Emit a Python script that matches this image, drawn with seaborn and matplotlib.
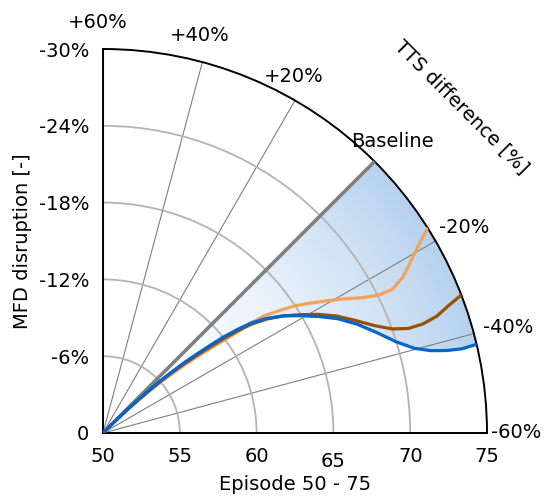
import numpy as np
import matplotlib
matplotlib.use("Agg")
import matplotlib.pyplot as plt
import matplotlib.transforms as mtransforms
import seaborn as sns
import pandas as pd
from matplotlib.colors import LinearSegmentedColormap
from matplotlib.path import Path

plt.rcParams['font.family'] = ['DejaVu Sans']

# ---------------- data ----------------
episodes = list(range(50, 76))
# TTS difference [%] relative to baseline, per episode
tts_blue = [0, -0.5, -1.2, -2.0, -2.8, -3.6, -4.5, -5.5, -6.6, -7.6, -8.6, -9.8, -11.2,
            -13.3, -16.0, -19.2, -22.3, -25.4, -29.1, -33.2, -37.0, -39.7, -41.2, -42.0,
            -42.4, -42.2]
tts_orange = [0, -0.8, -1.8, -2.8, -3.8, -4.8, -5.9, -7.0, -8.1, -9.2, -10.1, -10.8, -11.1,
              -12.0, -13.7, -15.3, -17.4, -19.4, -21.3, -23.2, -24.5, -24.8, -23.4, -21.0,
              -18.8, -17.0]
tts_brown = [0, -0.5, -1.3, -2.2, -3.1, -4.0, -5.0, -6.1, -7.2, -8.3, -9.3, -10.4, -11.7,
             -13.6, -16.0, -18.8, -21.5, -24.5, -28.0, -31.2, -33.6, -34.8, -34.9, -34.3,
             -33.0, -31.9]

tts_ticks = [-60, -40, -20, 0, 20, 40, 60]
tts_labels = ['-60%', '-40%', '-20%', 'Baseline', '+20%', '+40%', '+60%']
ep_ticks = [50, 55, 60, 65, 70, 75]
ep_labels = ['50', '55', '60', '65', '70', '75']
mfd_labels = ['0', '-6%', '-12%', '-18%', '-24%', '-30%']

# label offsets (pixels, right / up) from the outer arc, layout only
tts_label_offsets = [(29, 0), (34, 6), (29, 14), (18, 20), (-1, 24), (-3, 27), (-5, 27)]

colors = {'orange': '#f2a35a', 'brown': '#995000', 'blue': '#0066cc'}
FS = 14


def tts_to_theta(v):
    # +-60% mapped onto the quarter circle, baseline at 45 degrees
    return np.deg2rad(45 + 0.75 * np.asarray(v, dtype=float))


df = pd.DataFrame({
    'episode': episodes * 3,
    'tts': tts_orange + tts_brown + tts_blue,
    'run': ['orange'] * len(episodes) + ['brown'] * len(episodes) + ['blue'] * len(episodes),
})
df['theta'] = tts_to_theta(df['tts'])

# ---------------- figure ----------------
W, H = 550, 497
fig = plt.figure(figsize=(W / 100, H / 100), dpi=100)
cx, cy, R = 103, 433, 384
rect = [cx / W, (H - cy) / H, R / W, R / H]

ax = fig.add_axes(rect, projection='polar')
ax.set_thetamin(0)
ax.set_thetamax(90)
ax.set_rlim(50, 75)
ax.set_rticks([55, 60, 65, 70])
ax.set_yticklabels([])
ax.set_xticks(tts_to_theta(tts_ticks))
ax.set_xticklabels([])
ax.yaxis.grid(True, color='#b3b3b3', lw=1.3)
ax.xaxis.grid(True, color='#7f7f7f', lw=0.8)
for s in ax.spines.values():
    s.set_color('black')
    s.set_linewidth(1.4)

for t, lab, (dx, dy) in zip(tts_ticks, tts_labels, tts_label_offsets):
    tr = ax.transData + mtransforms.ScaledTranslation(dx / 100, dy / 100, fig.dpi_scale_trans)
    ax.text(tts_to_theta(t), 75, lab, transform=tr, fontsize=FS,
            ha='center', va='center', clip_on=False)

# gradient shading between baseline and lowest curve
lower = np.minimum(np.minimum(tts_blue, tts_orange), tts_brown)
th = np.linspace(0, np.pi / 4, 120)
rr = np.linspace(50, 75, 200)
T, Rr = np.meshgrid(th, rr)
C = ((Rr - 50) / 25) ** 2
cmap = LinearSegmentedColormap.from_list('sh', ['#ffffff', '#b6d1ed'])
mesh = ax.pcolormesh(T, Rr, C, cmap=cmap, vmin=0, vmax=1, shading='gouraud', zorder=1)
lt = tts_to_theta(lower)
verts = np.column_stack([
    np.concatenate([lt, [lt[-1], np.pi / 4, np.pi / 4]]),
    np.concatenate([episodes, [90, 90, 50]]),
])
mesh.set_clip_path(Path(verts), ax.transData)

# baseline ray
ax.plot(tts_to_theta([0, 0]), [50, 75], color='#808080', lw=2.6, zorder=3)

sns.lineplot(data=df, x='theta', y='episode', hue='run', palette=colors,
             hue_order=['orange', 'brown', 'blue'], sort=False, estimator=None,
             lw=2.3, ax=ax, legend=False, zorder=4)
ax.set_xlabel('')
ax.set_ylabel('')

# cartesian overlay for the Episode / MFD scales
ax2 = fig.add_axes(rect, facecolor='none')
ax2.set_xlim(50, 75)
ax2.set_ylim(50, 75)
ax2.set_xticks(ep_ticks)
ax2.set_xticklabels(ep_labels, fontsize=FS)
ax2.set_yticks(ep_ticks)
ax2.set_yticklabels(mfd_labels, fontsize=FS)
ax2.tick_params(length=0, pad=10)
for s in ax2.spines.values():
    s.set_visible(False)
ax2.set_xlabel('Episode 50 - 75', fontsize=FS, labelpad=3)
ax2.set_ylabel('MFD disruption [-]', fontsize=FS, labelpad=5)
lab65 = ax2.xaxis.get_major_ticks()[3].label1
lab65.set_transform(lab65.get_transform() +
                    mtransforms.ScaledTranslation(0, -0.05, fig.dpi_scale_trans))

fig.text(462 / W, 1 - 107 / H, 'TTS difference [%]', rotation=-45, fontsize=FS,
         ha='center', va='center')

fig.savefig('out.png', dpi=100)
